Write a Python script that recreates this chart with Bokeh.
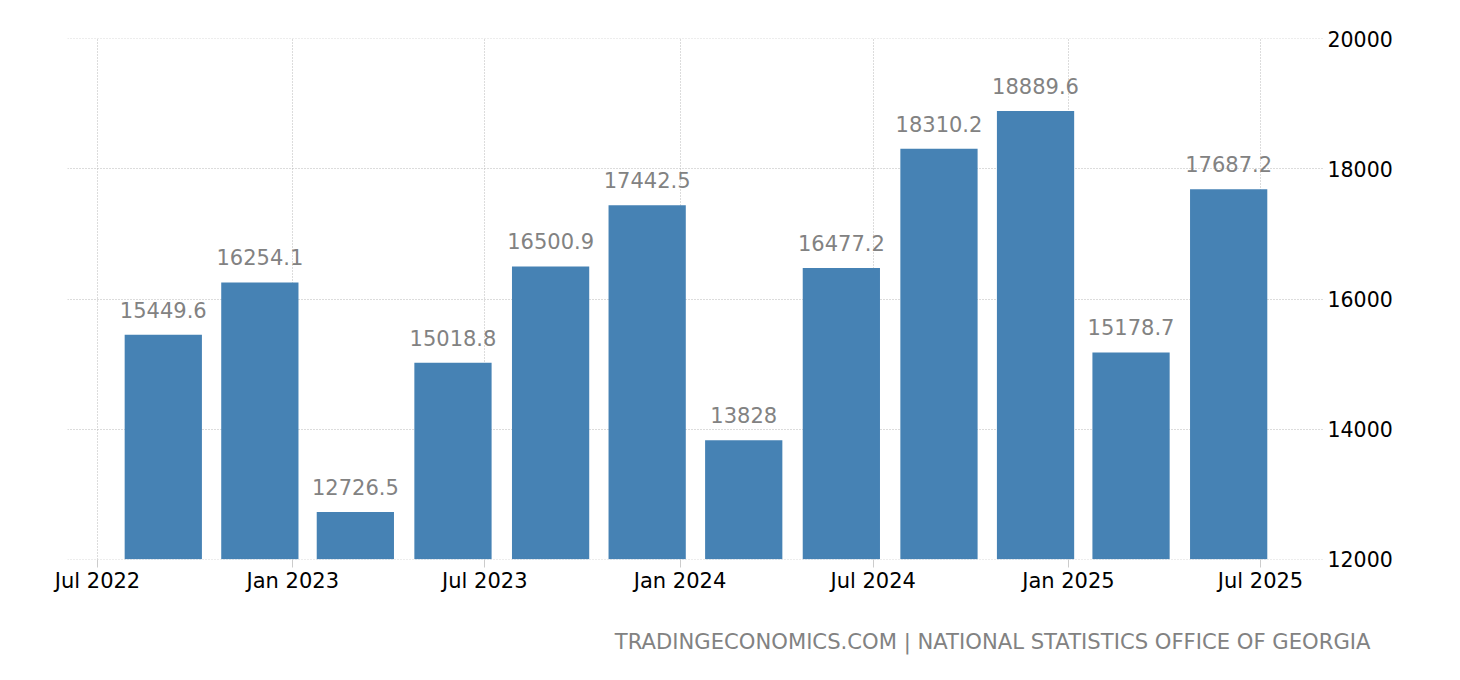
from datetime import datetime
from bokeh.plotting import figure
from bokeh.models import ColumnDataSource, FixedTicker, DatetimeTickFormatter, Range1d, Title
from bokeh.core.properties import value
from bokeh.embed import file_html
from bokeh.resources import INLINE

dates = [datetime(2022, 9, 1), datetime(2022, 12, 1), datetime(2023, 3, 1), datetime(2023, 6, 1),
         datetime(2023, 9, 1), datetime(2023, 12, 1), datetime(2024, 3, 1), datetime(2024, 6, 1),
         datetime(2024, 9, 1), datetime(2024, 12, 1), datetime(2025, 3, 1), datetime(2025, 6, 1)]
values = [15449.6, 16254.1, 12726.5, 15018.8, 16500.9, 17442.5, 13828, 16477.2, 18310.2, 18889.6, 15178.7, 17687.2]
x_ticks = [datetime(2022, 7, 1), datetime(2023, 1, 1), datetime(2023, 7, 1), datetime(2024, 1, 1),
           datetime(2024, 7, 1), datetime(2025, 1, 1), datetime(2025, 7, 1)]
y_ticks = [12000, 14000, 16000, 18000, 20000]
source_text = "TRADINGECONOMICS.COM | NATIONAL STATISTICS OFFICE OF GEORGIA"

DAY = 86400000
FONT = "DejaVu Sans"
FS = "21px"
GREY = "#828282"


def ms(d):
    return (d - datetime(1970, 1, 1)).total_seconds() * 1000


PX_PER_DAY = 1163 / 1096
x_start = ms(x_ticks[0]) - 30 / PX_PER_DAY * DAY
x_end = ms(x_ticks[-1]) + 63 / PX_PER_DAY * DAY

p = figure(width=1452, height=672, output_backend="svg", toolbar_location=None,
           x_axis_type="datetime", y_axis_location="right",
           x_range=Range1d(x_start, x_end), y_range=Range1d(11995, 20005),
           min_border_left=67, min_border_right=129, min_border_top=38, min_border_bottom=113)
p.outline_line_color = None
p.background_fill_color = "white"

src = ColumnDataSource(dict(x=[ms(d) for d in dates], y=values, label=[f"{v:g}" for v in values]))
p.vbar(x="x", top="y", bottom=12000, width=72.8 * DAY, source=src, color="#4682b4", line_color=None)
p.text(x="x", y="y", text="label", source=src, text_align="center", text_baseline="alphabetic",
       y_offset=-25, text_color=GREY, text_font=value(FONT), text_font_size=FS)

xt = [ms(d) for d in x_ticks]
p.xaxis.ticker = FixedTicker(ticks=xt)
p.xaxis.formatter = DatetimeTickFormatter(months="%b %Y", days="%b %Y", hours="%b %Y", years="%b %Y")
p.xaxis.axis_line_color = None
p.xaxis.major_tick_line_color = "#cccccc"
p.xaxis.major_tick_out = 8
p.xaxis.major_tick_in = 0
p.xaxis.minor_tick_line_color = None
p.xaxis.major_label_standoff = 1
p.xaxis.major_label_text_font = FONT
p.xaxis.major_label_text_font_size = FS
p.xaxis.major_label_text_color = "black"

p.yaxis.ticker = FixedTicker(ticks=y_ticks)
p.yaxis.axis_line_color = None
p.yaxis.major_tick_line_color = None
p.yaxis.minor_tick_line_color = None
p.yaxis.major_label_standoff = -2
p.yaxis.major_label_text_font = FONT
p.yaxis.major_label_text_font_size = "20.5px"
p.yaxis.major_label_text_color = "black"

p.xgrid.ticker = FixedTicker(ticks=xt)
p.ygrid.ticker = FixedTicker(ticks=y_ticks)
for g in (p.xgrid, p.ygrid):
    g.grid_line_color = "#b8b8b8"
    g.grid_line_dash = "1 2"
    g.grid_line_width = 1

p.add_layout(Title(text=" ", standoff=6, text_font_size="21px"), "below")
p.add_layout(Title(text=source_text, align="right", offset=-47, standoff=0,
                   text_color=GREY, text_font=FONT, text_font_size="21.15px",
                   text_font_style="normal"), "below")

open("out.html", "w").write(file_html(p, INLINE))
